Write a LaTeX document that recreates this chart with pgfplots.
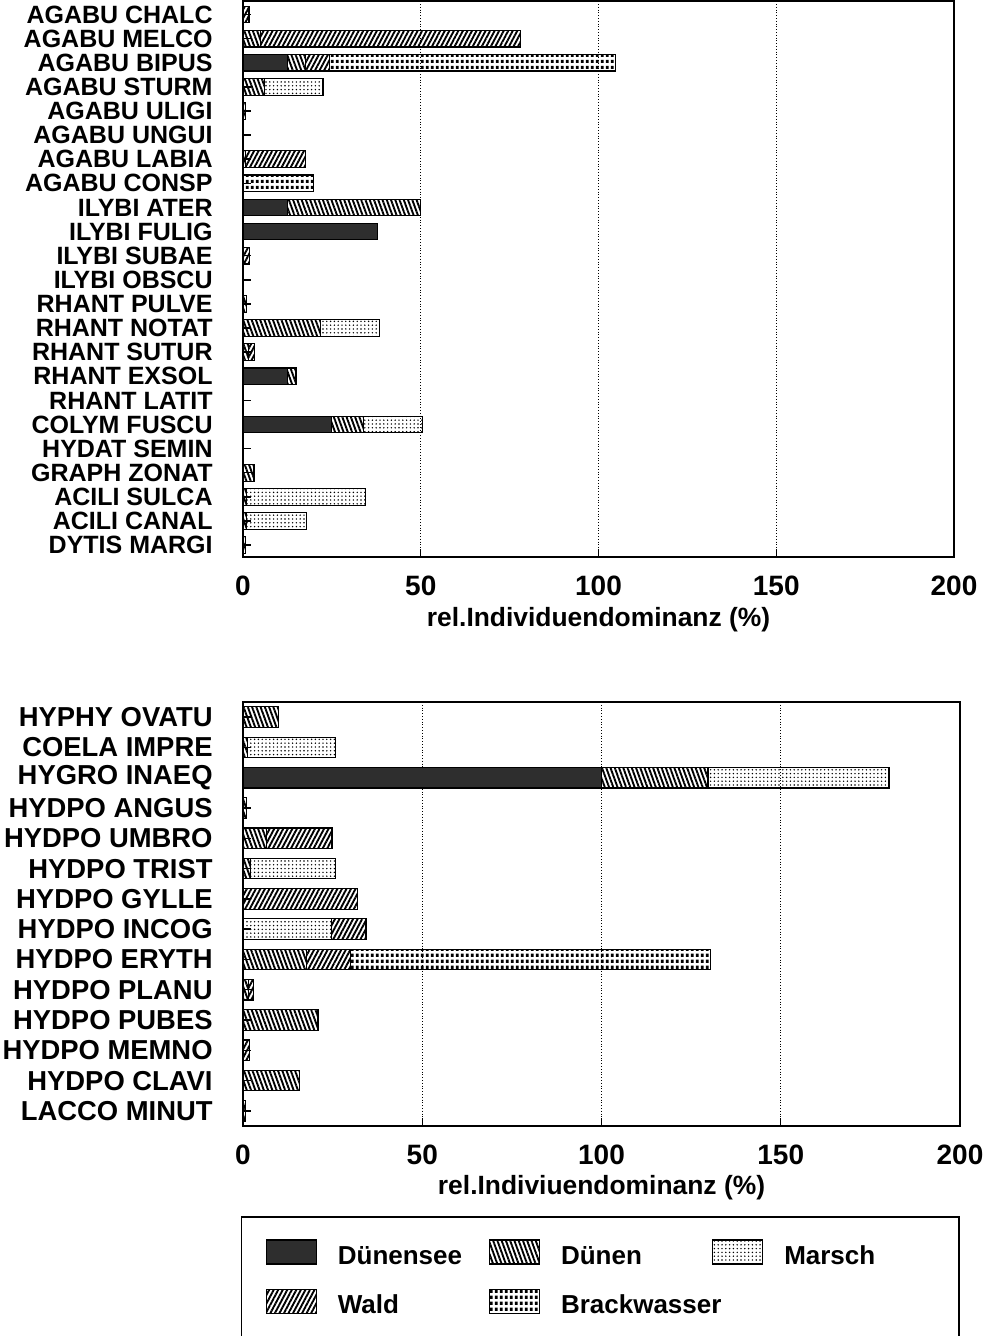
\documentclass[border=0pt]{standalone}
\usepackage{pgfplots}
\pgfplotsset{compat=1.18}
\usepackage{pgfplotstable}
\usepackage{fontspec}
\setmainfont{Liberation Sans}
\usetikzlibrary{patterns.meta}

\pgfdeclarepattern{
  name=brack,
  type=uncolored,
  bottom left={\pgfpoint{0pt}{0pt}},
  top right={\pgfpoint{2.4pt}{3pt}},
  tile size={\pgfpoint{2.4pt}{3pt}},
  code={
    \pgfpathrectangle{\pgfpoint{0.5pt}{0.6pt}}{\pgfpoint{1.4pt}{1.8pt}}
    \pgfusepath{fill}
  }
}

% columns: Duenensee, Duenen, Marsch, Wald, Brackwasser
\pgfplotstableread{
idx ds du ma wa br
0  0    0    0    1.7  0
1  0    5    0    73   0
2  12.5 5    0    6.8  80.4
3  0    6    16.5 0    0
4  0    0.8  0    0    0
5  0    0    0    0    0
6  0    0.8  0    16.7 0
7  0    0    0    0    19.9
8  12.5 37.5 0    0    0
9  37.8 0    0    0    0
10 0    0    0    1.9  0
11 0    0    0    0    0
12 0    0.9  0    0    0
13 0    21.7 16.6 0    0
14 0    1.5  0    1.7  0
15 12.5 2.4  0    0    0
16 0    0    0    0    0
17 24.8 9    16.8 0    0
18 0    0    0    0    0
19 0    3.1  0    0    0
20 0    1    33.5 0    0
21 0    1    16.8 0    0
22 0    0.8  0    0    0
}\toptable

\pgfplotstableread{
idx ds du ma wa br
0  0    9.9  0    0    0
1  0    1.2  24.6 0    0
2  100  29.7 50.5 0    0
3  0    1    0    0    0
4  0    6.5  0    18.3 0
5  0    2    23.7 0    0
6  0    0    0    31.9 0
7  0    0    24.7 9.6  0
8  0    17.7 0    12.3 100.3
9  0    1.5  0    1.5  0
10 0    20.9 0    0    0
11 0    0    0    1.9  0
12 0    15.7 0    0    0
13 0    0.8  0    0    0
}\bottable

\pgfplotsset{
  legsw/.style={legend image code/.code={\draw[##1] (0pt,-3.4pt) rectangle (25pt,8.6pt);}},
  sDs/.style={fill=black!82, draw=black, line width=0.6pt, legsw},
  sDu/.style={pattern={Lines[angle=-70,distance=2pt,line width=0.95pt]}, pattern color=black, draw=black, line width=0.6pt, legsw},
  sMa/.style={pattern={Dots[radius=0.4pt,distance=1.9pt]}, pattern color=black, draw=black, line width=0.6pt, legsw},
  sWa/.style={pattern={Lines[angle=62,distance=2pt,line width=0.95pt]}, pattern color=black, draw=black, line width=0.6pt, legsw},
  sBr/.style={pattern=brack, pattern color=black, draw=black, line width=0.6pt, legsw},
  common/.style={
    scale only axis,
    xbar stacked,
    y dir=reverse,
    xmin=0, xmax=200,
    xtick={0,50,100,150,200},
    xmajorgrids,
    grid style={black, densely dotted, line width=0.6pt},
    ytick pos=left, xtick pos=bottom,
    tick align=inside,
    major tick length=4pt,
    tick style={black, line width=0.7pt},
    axis line style={line width=0.8pt},
    /pgf/number format/assume math mode=true,
    scaled ticks=false,
    xticklabel style={font=\bfseries\fontsize{14}{14}\selectfont, yshift=-6pt},
    xlabel style={font=\bfseries\fontsize{13.2}{14}\selectfont, at={(axis description cs:0.5,0)}, anchor=center},
  },
}

\begin{document}
\begin{tikzpicture}
\useasboundingbox (0,0) rectangle (498pt,-668pt);
\begin{axis}[
  common,
  at={(121.5pt,-0.6pt)}, anchor=north west,
  width=355.5pt, height=278pt,
  bar width=0.69,
  ymin=-0.55, ymax=22.5,
  ytick={0,...,22},
  yticklabels={AGABU CHALC,AGABU MELCO,AGABU BIPUS,AGABU STURM,AGABU ULIGI,AGABU UNGUI,AGABU LABIA,AGABU CONSP,ILYBI ATER,ILYBI FULIG,ILYBI SUBAE,ILYBI OBSCU,RHANT PULVE,RHANT NOTAT,RHANT SUTUR,RHANT EXSOL,RHANT LATIT,COLYM FUSCU,HYDAT SEMIN,GRAPH ZONAT,ACILI SULCA,ACILI CANAL,DYTIS MARGI},
  yticklabel style={font=\bfseries\fontsize{12.5}{13}\selectfont, inner sep=0pt, xshift=-15pt},
  xlabel={rel.Individuendominanz (\%)},
  xlabel style={yshift=-31pt},
]
\addplot[sDs] table[x=ds, y=idx] {\toptable};
\addplot[sDu] table[x=du, y=idx] {\toptable};
\addplot[sMa] table[x=ma, y=idx] {\toptable};
\addplot[sWa] table[x=wa, y=idx] {\toptable};
\addplot[sBr] table[x=br, y=idx] {\toptable};
\end{axis}

\begin{axis}[
  common,
  at={(121.5pt,-351pt)}, anchor=north west,
  width=358.5pt, height=212pt,
  bar width=0.68,
  ymin=-0.5, ymax=13.5,
  ytick={0,...,13},
  yticklabels={HYPHY OVATU,COELA IMPRE,HYGRO INAEQ,HYDPO ANGUS,HYDPO UMBRO,HYDPO TRIST,HYDPO GYLLE,HYDPO INCOG,HYDPO ERYTH,HYDPO PLANU,HYDPO PUBES,HYDPO MEMNO,HYDPO CLAVI,LACCO MINUT},
  yticklabel style={font=\bfseries\fontsize{13.7}{14}\selectfont, inner sep=0pt, xshift=-15pt},
  xlabel={rel.Indiviuendominanz (\%)},
  xlabel style={yshift=-31pt},
  legend columns=3,
  legend style={at={(-0.003,-0.2123)}, anchor=north west, draw=black, line width=0.8pt,
    inner xsep=12pt, inner ysep=11.3pt, row sep=9.3pt,
    font=\bfseries\fontsize{13}{14}\selectfont,
    nodes={inner sep=0pt, text width=75.5pt, text height=10pt, text depth=3pt},
    /tikz/every odd column/.append style={column sep=10.5pt}},
]
\addplot[sDs] table[x=ds, y=idx] {\bottable};
\addplot[sDu] table[x=du, y=idx] {\bottable};
\addplot[sMa] table[x=ma, y=idx] {\bottable};
\addplot[sWa] table[x=wa, y=idx] {\bottable};
\addplot[sBr] table[x=br, y=idx] {\bottable};
\legend{Dünensee,Dünen,Marsch,Wald,Brackwasser}
\end{axis}
\end{tikzpicture}
\end{document}
